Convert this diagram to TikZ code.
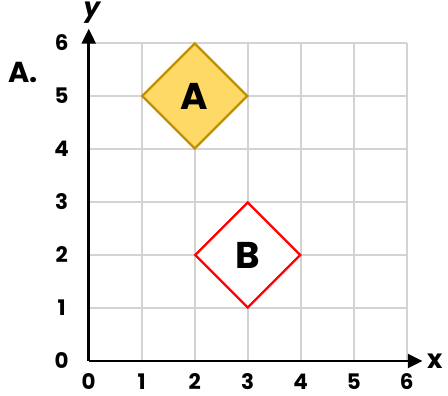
\documentclass[tikz,border=0pt]{standalone}
\usepackage{fontspec}
\setmainfont{Poppins}
\usetikzlibrary{arrows.meta,shapes.geometric}
\definecolor{gridgray}{HTML}{D3D3D3}
\definecolor{goldfill}{HTML}{FFD966}
\definecolor{goldline}{HTML}{BF9000}
\definecolor{shapered}{HTML}{FF0000}

\begin{document}
\begin{tikzpicture}[grid/.style={draw=gridgray,line width=1.1pt}, ax/.style={line width=1.4pt,-{Triangle[length=2.8mm,width=2.6mm]}}, num/.style={inner sep=0pt,font=\bfseries\fontsize{11.5}{12}\selectfont}, shp/.style={diamond,aspect=1,minimum size=2cm,inner sep=0pt,line width=1.2pt,font=\bfseries\fontsize{20}{20}\selectfont}]
\useasboundingbox (-1.674,-0.660) rectangle (6.779,6.811);
\draw[grid] (0,0) grid (6,6);
\coordinate (O) at (0,0);
\coordinate (xend) at (6.3,0);
\coordinate (yend) at (0,6.27);
\draw[ax] (O) -- (xend);
\draw[ax] (O) -- (yend);
\node[font=\bfseries\fontsize{14}{14}\selectfont] (xlab) at (6.53,0) {x};
\node[font=\bfseries\itshape\fontsize{14}{14}\selectfont] (ylab) at (0.06,6.58) {y};
\foreach \n in {0,...,6} {
  \node[num] (xl\n) at (\n,-0.39) {\n};
  \node[num] (yl\n) at (-0.51,\n) {\n};
}
\node[font=\bfseries\fontsize{15.5}{16}\selectfont] (parta) at (-1.24,5.45) {A.};
\node[shp,draw=goldline,fill=goldfill] (shapeA) at (2,5) {A};
\node[shp,draw=shapered,fill=white] (shapeB) at (3,2) {B};
\end{tikzpicture}
\end{document}
